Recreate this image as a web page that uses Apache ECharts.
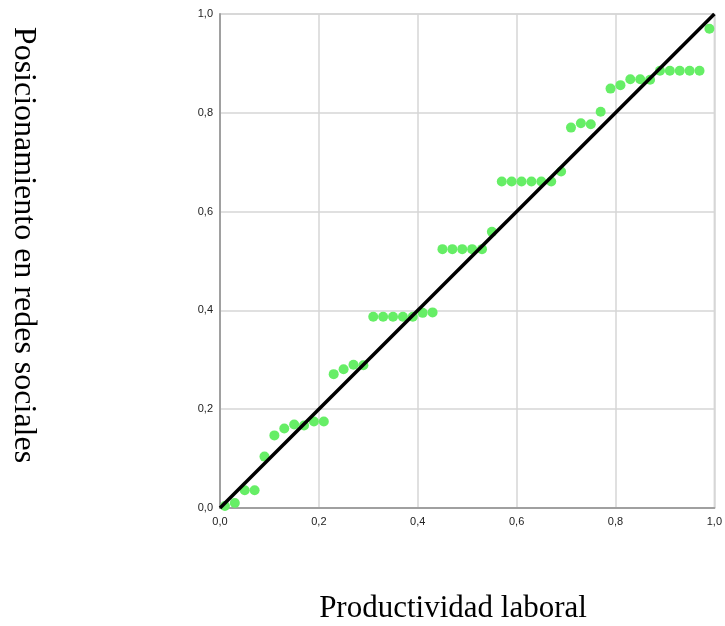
<!DOCTYPE html>
<html>
<head>
<meta charset="utf-8">
<script src="https://cdn.jsdelivr.net/npm/echarts@6/dist/echarts.min.js"></script>
<style>html,body{margin:0;padding:0;background:#fff}#c{width:725px;height:626px}</style>
</head>
<body>
<div id="c"></div>
<script>
var observedProb = [0.01,0.03,0.05,0.07,0.09,0.11,0.13,0.15,0.17,0.19,0.21,0.23,0.25,0.27,0.29,0.31,0.33,0.35,0.37,0.39,0.41,0.43,0.45,0.47,0.49,0.51,0.53,0.55,0.57,0.59,0.61,0.63,0.65,0.67,0.69,0.71,0.73,0.75,0.77,0.79,0.81,0.83,0.85,0.87,0.89,0.91,0.93,0.95,0.97,0.99];
var expectedProb = [0.004,0.010,0.036,0.036,0.104,0.147,0.161,0.169,0.167,0.175,0.175,0.271,0.281,0.290,0.289,0.387,0.387,0.387,0.387,0.387,0.395,0.396,0.524,0.524,0.524,0.524,0.524,0.559,0.661,0.661,0.661,0.661,0.661,0.661,0.681,0.770,0.779,0.777,0.802,0.849,0.856,0.868,0.868,0.867,0.885,0.885,0.885,0.885,0.885,0.970];
var refLineX = [0, 1];
var refLineY = [0, 1];
var tickLabels = ['0,0','0,2','0,4','0,6','0,8','1,0'];
var xTitle = 'Productividad laboral';
var yTitle = 'Posicionamiento en redes sociales';

function fmt(v){ return tickLabels[Math.round(v*5)]; }

var chart = echarts.init(document.getElementById('c'));
var axisCommon = {
  type: 'value', min: 0, max: 1, interval: 0.2,
  axisLine: {show: true, lineStyle: {color: '#a0a0a0', width: 2}},
  axisTick: {show: false},
  splitLine: {show: true, lineStyle: {color: '#d6d6d6', width: 1.5}},
  axisLabel: {formatter: fmt, color: '#222', fontFamily: 'Liberation Sans, Arial, sans-serif', fontSize: 11}
};
chart.setOption({
  animation: false,
  backgroundColor: '#fff',
  grid: {left: 220, right: 8, top: 14, bottom: 118, show: true, borderColor: '#d6d6d6', borderWidth: 1.5},
  xAxis: Object.assign({}, axisCommon, {axisLabel: Object.assign({}, axisCommon.axisLabel, {margin: 8})}),
  yAxis: Object.assign({}, axisCommon, {axisLabel: Object.assign({}, axisCommon.axisLabel, {margin: 7})}),
  series: [
    {
      type: 'scatter',
      data: observedProb.map(function(x, i){ return [x, expectedProb[i]]; }),
      symbolSize: 10,
      itemStyle: {color: '#66ee66', opacity: 1},
      z: 2
    },
    {
      type: 'line',
      data: refLineX.map(function(x, i){ return [x, refLineY[i]]; }),
      symbol: 'none',
      lineStyle: {color: '#000', width: 3.5},
      z: 3
    }
  ],
  graphic: [
    {
      type: 'text', x: 453, y: 609,
      style: {text: xTitle, fontFamily: 'Liberation Serif, Times New Roman, serif', fontSize: 31, fill: '#000', textAlign: 'center', textVerticalAlign: 'middle'}
    },
    {
      type: 'text', x: 23, y: 245, rotation: -Math.PI/2,
      style: {text: yTitle, fontFamily: 'Liberation Serif, Times New Roman, serif', fontSize: 32, fill: '#000', textAlign: 'center', textVerticalAlign: 'middle'}
    }
  ]
});
</script>
</body>
</html>
